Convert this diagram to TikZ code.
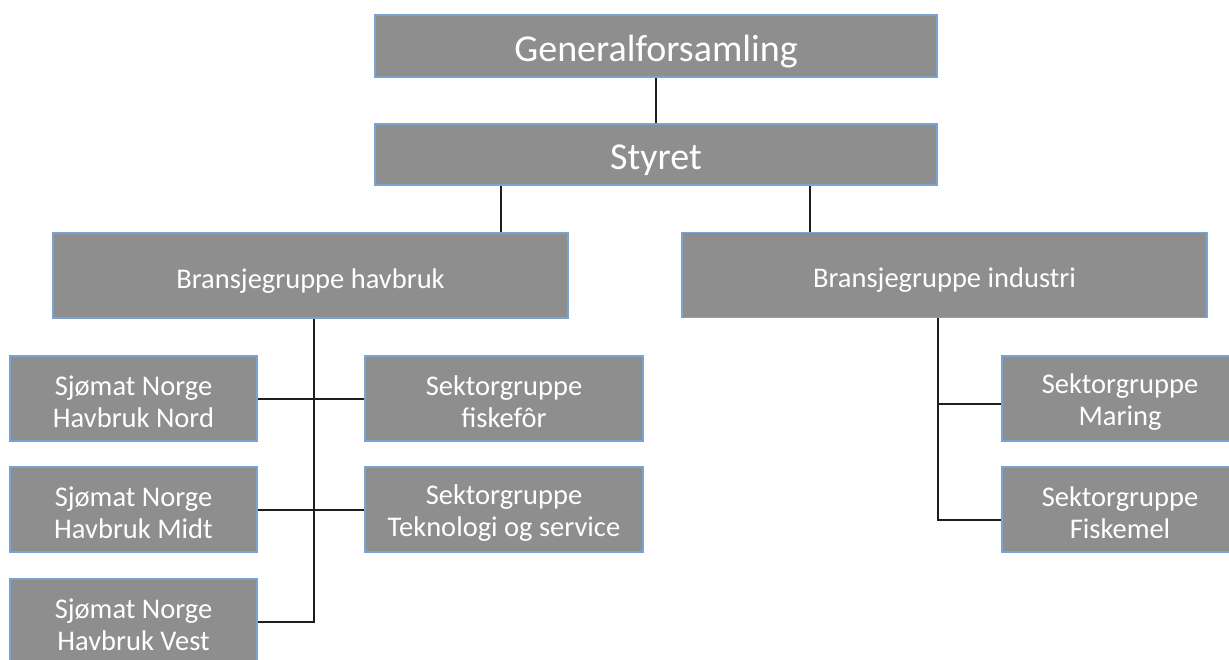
\documentclass[tikz,border=0pt]{standalone}
\usepackage{fontspec}
\setmainfont{Carlito}

\definecolor{boxfill}{HTML}{8E8E8E}
\definecolor{boxedge}{HTML}{7BA3CF}
\definecolor{linkcol}{HTML}{1E1E1E}

\tikzset{
	box/.style={draw=boxedge, line width=1.5pt, fill=boxfill, text=white, inner sep=0pt, align=center,
		minimum height=85pt, font=\fontsize{28.5}{32}\selectfont,
		execute at begin node={\rule{0pt}{30pt}}},
	twoline/.style={box, execute at begin node={\rule{0pt}{59pt}}},
	topbox/.style={box, minimum width=562pt, minimum height=62pt, font=\fontsize{38}{40}\selectfont,
		execute at begin node={\rule{0pt}{37pt}}},
	link/.style={draw=linkcol, line width=2pt}
}

\begin{document}
\begin{tikzpicture}[x=1pt, y=-1pt]
	\useasboundingbox (0, 0) rectangle (1229, 659);
	\node[topbox] (gen) at (656, 46) {Generalforsamling};
	\node[topbox, minimum height=61pt] (sty) at (656, 154.5) {Styret};
	
	\node[box, minimum width=515pt] (bhav) at (310.5, 275.5) {Bransjegruppe havbruk};
	\node[box, minimum width=525pt] (bind) at (944.5, 275) {Bransjegruppe industri};
	
	\node[twoline, minimum width=247pt] (nord) at (133.5, 398.5) {Sjømat Norge\\Havbruk Nord};
	\node[twoline, minimum width=247pt] (midt) at (133.5, 509.5) {Sjømat Norge\\Havbruk Midt};
	\node[twoline, minimum width=247pt] (vest) at (133.5, 621.5) {Sjømat Norge\\Havbruk Vest};
	\node[twoline, minimum width=278pt] (fisk) at (504, 398.5) {Sektorgruppe\\fiskefôr};
	\node[twoline, minimum width=278pt] (tek) at (504, 509.5) {Sektorgruppe\\Teknologi og service};
	
	\node[twoline, minimum width=236pt] (mar) at (1120, 398.5) {Sektorgruppe\\Maring};
	\node[twoline, minimum width=236pt] (fmel) at (1120, 509.5) {Sektorgruppe\\Fiskemel};
	
	\coordinate (hs) at ([xshift=3pt]bhav.south);
	\coordinate (is) at ([xshift=-7pt]bind.south);
	
	\draw[link] (gen.south) -- (sty.south |- sty.north);
	\draw[link] ([xshift=-155pt]sty.south) -- ([xshift=-155pt]sty.south |- bhav.north);
	\draw[link] ([xshift=154pt]sty.south) -- ([xshift=154pt]sty.south |- bind.north);
	
	\draw[link] (hs) |- (vest.east);
	\draw[link] (nord.east) -- (fisk.west);
	\draw[link] (midt.east) -- (tek.west);
	
	\draw[link] (is) |- ([yshift=-10pt]fmel.west);
	\draw[link] (is |- mar.west) ++(0, 5) -- ([yshift=-5pt]mar.west);
\end{tikzpicture}
\end{document}
